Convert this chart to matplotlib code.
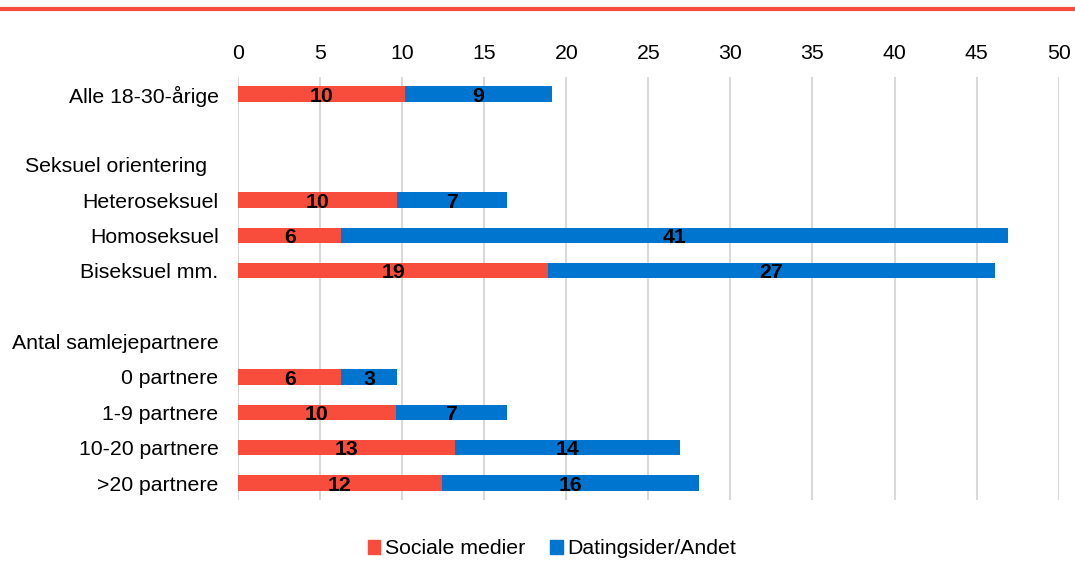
import matplotlib
matplotlib.use("Agg")
import matplotlib.pyplot as plt
from matplotlib.transforms import ScaledTranslation
from matplotlib.patches import Patch
from matplotlib.lines import Line2D

plt.rcParams['font.family'] = ['Liberation Sans', 'DejaVu Sans']

categories = ["Alle 18-30-årige", "", "Seksuel orientering", "Heteroseksuel", "Homoseksuel",
              "Biseksuel mm.", "", "Antal samlejepartnere", "0 partnere", "1-9 partnere",
              "10-20 partnere", ">20 partnere"]
sociale = [10.2, None, None, 9.7, 6.3, 18.9, None, None, 6.3, 9.6, 13.2, 12.4]
dating = [8.9, None, None, 6.7, 40.6, 27.2, None, None, 3.4, 6.8, 13.75, 15.7]
series_names = ["Sociale medier", "Datingsider/Andet"]
xticks = [0, 5, 10, 15, 20, 25, 30, 35, 40, 45, 50]

red = "#F84C3C"
blue = "#0075CF"
FS = 15.3

fig = plt.figure(figsize=(10.75, 5.63), dpi=100)
ax = fig.add_axes([238 / 1075, 63 / 563, (1058.7 - 238) / 1075, (500 - 77) / 563])

bh = 0.43
for i, (s, d) in enumerate(zip(sociale, dating)):
    if s is None:
        continue
    ax.barh(i, s, height=bh, color=red, zorder=3)
    ax.barh(i, d, left=s, height=bh, color=blue, zorder=3)
    ax.text(s / 2, i + 0.06, f"{round(s)}", ha='center', va='center',
            fontsize=FS, fontweight='bold', color='black', zorder=4)
    ax.text(s + d / 2, i + 0.06, f"{round(d)}", ha='center', va='center',
            fontsize=FS, fontweight='bold', color='black', zorder=4)

ax.set_xlim(0, 50)
ax.set_ylim(len(categories) - 1 + 0.48, -0.48)
ax.set_xticks(xticks)
ax.xaxis.tick_top()
ax.tick_params(axis='x', length=0, pad=10, labelsize=FS)
ax.set_yticks(range(len(categories)))
ax.set_yticklabels(categories)
ax.tick_params(axis='y', length=0, pad=14, labelsize=FS)
lbls = ax.get_yticklabels()
lbls[2].set_transform(lbls[2].get_transform() + ScaledTranslation(-12 / 100, 0, fig.dpi_scale_trans))

ax.grid(axis='x', color='#d9d9d9', linewidth=1.5, zorder=0)
for sp in ax.spines.values():
    sp.set_visible(False)

# top red rule
fig.add_artist(Line2D([0, 1], [1 - 9 / 563, 1 - 9 / 563], color=red, linewidth=3, transform=fig.transFigure))

handles = [Patch(color=red), Patch(color=blue)]
fig.legend(handles, series_names, loc='center', bbox_to_anchor=(552 / 1075, 14 / 563),
           ncol=2, frameon=False, fontsize=FS, handlelength=0.6, handleheight=0.6,
           handletextpad=0.2, columnspacing=1.2)

fig.savefig("out.png", dpi=100)
